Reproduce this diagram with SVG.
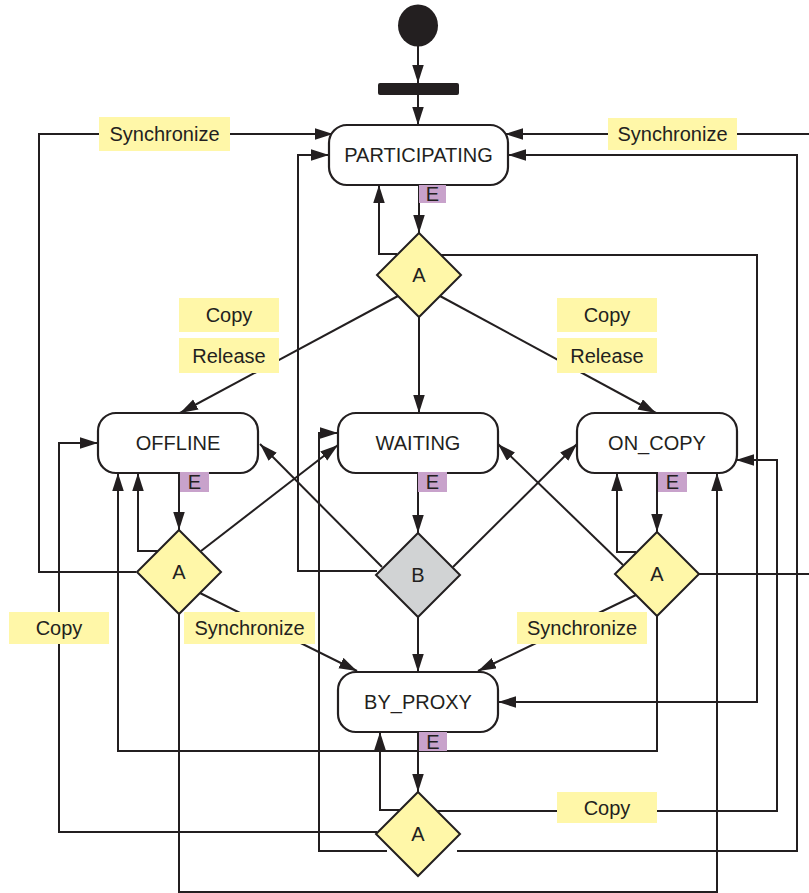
<svg xmlns="http://www.w3.org/2000/svg" width="809" height="893" viewBox="0 0 809 893">
<style>
.ln{fill:none;stroke:#231f20;stroke-width:2}
.ar{marker-end:url(#ah)}
.node{fill:#fff;stroke:#231f20;stroke-width:2.2}
.da{fill:#fff7a8;stroke:#231f20;stroke-width:2}
.db{fill:#d1d3d4;stroke:#231f20;stroke-width:2}
.lb{fill:#fff7a8}
.eb{fill:#c8a2cb}
text{font-family:"Liberation Sans",Arial,Helvetica,sans-serif;font-size:20px;fill:#231f20;text-anchor:middle}
</style>
<defs>
<marker id="ah" markerUnits="userSpaceOnUse" markerWidth="19" markerHeight="12" refX="18" refY="5.75" orient="auto">
<path d="M0,0 L18,5.75 L0,11.5 z" fill="#231f20"/>
</marker>
</defs>
<rect width="809" height="893" fill="#fff"/>
<g id="connectors">
<path class="ln ar" d="M418,46 L418,83"/>
<path class="ln ar" d="M418,95 L418,125"/>
<path class="ln ar" d="M136,572 L39,572 L39,134 L333,134"/>
<path class="ln ar" d="M809,134 L505,134"/>
<path class="ln" d="M699,574 L809,574"/>
<path class="ln ar" d="M377,571 L298,571 L298,155 L329,155"/>
<path class="ln ar" d="M457,851 L797,851 L797,155 L508,155"/>
<path class="ln ar" d="M397,254 L379,254 L379,185"/>
<path class="ln ar" d="M419,185 L419,233"/>
<path class="ln ar" d="M441,255 L757,255 L757,702 L498,702"/>
<path class="ln ar" d="M398,296 L180,413"/>
<path class="ln ar" d="M440,296 L656,413"/>
<path class="ln ar" d="M419,317 L419,413"/>
<path class="ln ar" d="M179,473 L179,530"/>
<path class="ln ar" d="M158,551 L138,551 L138,473"/>
<path class="ln ar" d="M201,551 L338,445"/>
<path class="ln ar" d="M200,593 L357,671"/>
<path class="ln ar" d="M179,614 L179,892 L717,892 L717,473"/>
<path class="ln ar" d="M377,832 L59,832 L59,443 L98,443"/>
<path class="ln ar" d="M657,616 L657,751 L118,751 L118,473"/>
<path class="ln ar" d="M418,473 L418,533"/>
<path class="ln ar" d="M382,567 L260,444"/>
<path class="ln ar" d="M453,567 L577,444"/>
<path class="ln ar" d="M418,617 L418,672"/>
<path class="ln ar" d="M657,473 L657,532"/>
<path class="ln ar" d="M636,552 L617,552 L617,473"/>
<path class="ln ar" d="M623,565 L498,444"/>
<path class="ln ar" d="M636,595 L478,671"/>
<path class="ln ar" d="M437,811 L777,811 L777,460 L736,460"/>
<path class="ln ar" d="M418,732 L418,792"/>
<path class="ln ar" d="M401,810 L380,810 L380,732"/>
<path class="ln ar" d="M387,851 L319,851 L319,433 L338,433"/>
</g>
<g id="labels">
<rect class="lb" x="99" y="117" width="131" height="34"/><text x="164.5" y="141">Synchronize</text>
<rect class="lb" x="608" y="118" width="129" height="32"/><text x="672.5" y="141">Synchronize</text>
<rect class="lb" x="179" y="298" width="100" height="34"/><text x="229" y="322">Copy</text>
<rect class="lb" x="179" y="338" width="100" height="35"/><text x="229" y="362.5">Release</text>
<rect class="lb" x="557" y="298" width="100" height="34"/><text x="607" y="322">Copy</text>
<rect class="lb" x="557" y="338" width="100" height="35"/><text x="607" y="362.5">Release</text>
<rect class="lb" x="9" y="612" width="100" height="32"/><text x="59" y="635">Copy</text>
<rect class="lb" x="184" y="612" width="131" height="32"/><text x="249.5" y="635">Synchronize</text>
<rect class="lb" x="517" y="612" width="130" height="32"/><text x="582" y="635">Synchronize</text>
<rect class="lb" x="557" y="792" width="100" height="31"/><text x="607" y="814.5">Copy</text>
</g>
<g id="start"><ellipse cx="418" cy="25.5" rx="20" ry="21" fill="#231f20"/></g>
<g id="fork"><rect x="378" y="83" width="81" height="12" rx="2" fill="#231f20"/></g>
<g id="participating">
<rect class="node" x="329" y="125" width="179" height="60" rx="18"/>
<text x="418.5" y="162">PARTICIPATING</text>
<rect class="eb" x="419" y="185" width="27" height="18"/><text x="432.5" y="201">E</text>
</g>
<g id="offline">
<rect class="node" x="98" y="413" width="160" height="60" rx="18"/>
<text x="178" y="450">OFFLINE</text>
<rect class="eb" x="180" y="472" width="29" height="20"/><text x="194.5" y="489">E</text>
</g>
<g id="waiting">
<rect class="node" x="338" y="413" width="160" height="60" rx="18"/>
<text x="418" y="450">WAITING</text>
<rect class="eb" x="418" y="472" width="29" height="20"/><text x="432.5" y="489">E</text>
</g>
<g id="on_copy">
<rect class="node" x="577" y="413" width="160" height="60" rx="18"/>
<text x="657" y="450">ON_COPY</text>
<rect class="eb" x="658" y="472" width="29" height="20"/><text x="672.5" y="489">E</text>
</g>
<g id="by_proxy">
<rect class="node" x="338" y="672" width="160" height="60" rx="18"/>
<text x="418" y="709">BY_PROXY</text>
<rect class="eb" x="419" y="732" width="28" height="19"/><text x="433" y="749">E</text>
</g>
<g id="choice_participating"><polygon class="da" points="419,233 461,275 419,317 377,275"/><text x="419" y="282">A</text></g>
<g id="choice_offline"><polygon class="da" points="179,530 221,572 179,614 137,572"/><text x="179" y="579">A</text></g>
<g id="choice_waiting"><polygon class="db" points="418,533 460,575 418,617 376,575"/><text x="418" y="582">B</text></g>
<g id="choice_on_copy"><polygon class="da" points="657,532 699,574 657,616 615,574"/><text x="657" y="581">A</text></g>
<g id="choice_by_proxy"><polygon class="da" points="418,792 460,834 418,876 376,834"/><text x="418" y="841">A</text></g>
</svg>
